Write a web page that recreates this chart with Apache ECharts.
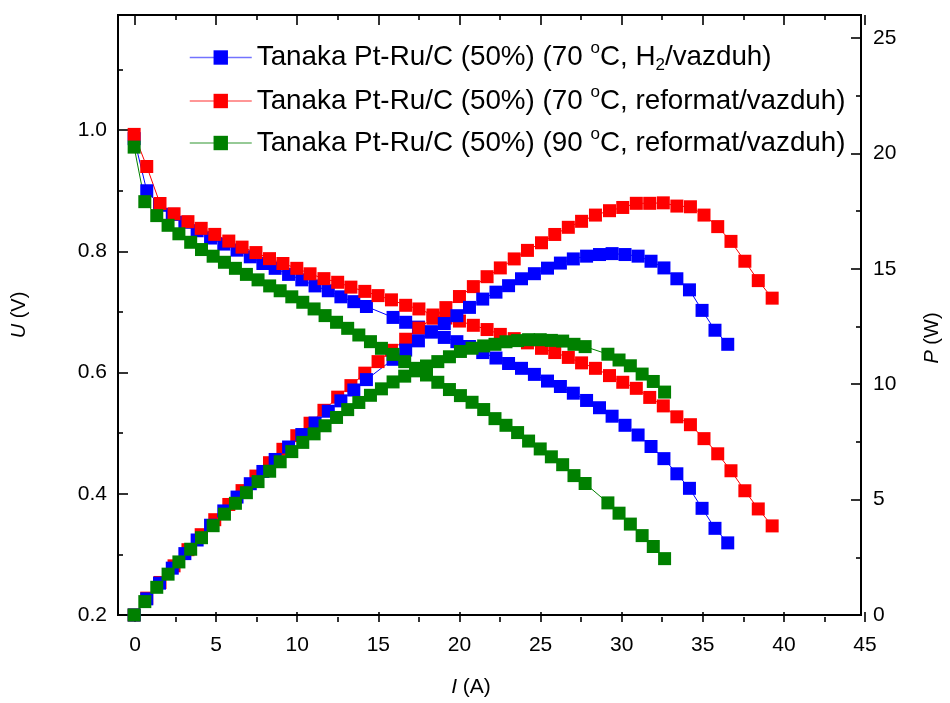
<!DOCTYPE html>
<html>
<head>
<meta charset="utf-8">
<script src="https://cdn.jsdelivr.net/npm/echarts@6/dist/echarts.min.js"></script>
<style>html,body{margin:0;padding:0;background:#fff;}#c{width:950px;height:703px;}</style>
</head>
<body>
<div id="c"></div>
<script>
// ---- data ----
const seriesNames = [
  'Tanaka Pt-Ru/C (50%) (70 °C, H2/vazduh)',
  'Tanaka Pt-Ru/C (50%) (70 °C, reformat/vazduh)',
  'Tanaka Pt-Ru/C (50%) (90 °C, reformat/vazduh)'
];
const legendRich = [
  'Tanaka Pt-Ru/C (50%) (70 {sup|o}C, H{sub|2}/vazduh)',
  'Tanaka Pt-Ru/C (50%) (70 {sup|o}C, reformat/vazduh)',
  'Tanaka Pt-Ru/C (50%) (90 {sup|o}C, reformat/vazduh)'
];
const seriesColors = ['#0000FF', '#FF0000', '#008000'];

// H2/air, 70 C
const I_blue = [0, 0.78, 1.57, 2.36, 3.14, 3.9, 4.73, 5.55, 6.37, 7.19, 7.97, 8.73, 9.56, 10.38, 11.2, 12.02, 12.8, 13.6, 14.38, 16.03, 16.81, 17.6, 18.4, 19.2, 19.98, 20.76, 21.58, 22.4, 23.18, 23.98, 24.78, 25.59, 26.39, 27.19, 28.01, 28.81, 29.59, 30.39, 31.2, 32.0, 32.8, 33.6, 34.38, 35.16, 35.96, 36.75];
const U_blue = [0.986, 0.900, 0.876, 0.861, 0.848, 0.834, 0.822, 0.812, 0.802, 0.791, 0.780, 0.772, 0.762, 0.753, 0.743, 0.735, 0.725, 0.717, 0.709, 0.691, 0.683, 0.675, 0.667, 0.658, 0.651, 0.643, 0.633, 0.624, 0.615, 0.607, 0.597, 0.586, 0.577, 0.566, 0.554, 0.542, 0.528, 0.513, 0.497, 0.478, 0.458, 0.433, 0.409, 0.376, 0.343, 0.319];
const P_blue = [0, 0.70, 1.38, 2.03, 2.66, 3.25, 3.89, 4.51, 5.11, 5.69, 6.22, 6.74, 7.28, 7.82, 8.32, 8.83, 9.28, 9.75, 10.20, 11.08, 11.48, 11.88, 12.27, 12.63, 12.97, 13.33, 13.69, 13.99, 14.27, 14.57, 14.79, 15.03, 15.25, 15.43, 15.55, 15.62, 15.66, 15.62, 15.55, 15.33, 15.04, 14.57, 14.09, 13.20, 12.34, 11.73];

// reformate/air, 70 C
const I_red = [0, 0.78, 1.6, 2.47, 3.33, 4.15, 4.99, 5.86, 6.68, 7.54, 8.38, 9.21, 10.07, 10.89, 11.75, 12.6, 13.42, 14.28, 15.1, 15.93, 16.81, 17.63, 18.5, 19.3, 20.14, 21.0, 21.85, 22.67, 23.53, 24.35, 25.22, 26.04, 26.88, 27.7, 28.56, 29.43, 30.25, 31.09, 31.92, 32.76, 33.6, 34.44, 35.28, 36.13, 36.95, 37.81, 38.64, 39.5];
const U_red = [0.993, 0.940, 0.879, 0.862, 0.849, 0.838, 0.828, 0.817, 0.807, 0.798, 0.788, 0.780, 0.772, 0.763, 0.755, 0.749, 0.741, 0.734, 0.727, 0.720, 0.711, 0.705, 0.695, 0.690, 0.685, 0.678, 0.671, 0.663, 0.656, 0.649, 0.640, 0.633, 0.625, 0.616, 0.607, 0.595, 0.584, 0.574, 0.559, 0.545, 0.527, 0.514, 0.491, 0.466, 0.438, 0.405, 0.375, 0.347];
const P_red = [0, 0.73, 1.41, 2.13, 2.83, 3.48, 4.13, 4.79, 5.39, 6.02, 6.60, 7.18, 7.77, 8.31, 8.87, 9.44, 9.94, 10.48, 10.98, 11.47, 11.95, 12.43, 12.86, 13.32, 13.80, 14.23, 14.66, 15.04, 15.43, 15.80, 16.13, 16.49, 16.80, 17.06, 17.33, 17.52, 17.66, 17.84, 17.84, 17.86, 17.72, 17.69, 17.33, 16.83, 16.19, 15.33, 14.49, 13.73];

// reformate/air, 90 C
const I_green = [0, 0.66, 1.4, 2.1, 2.77, 3.5, 4.17, 4.89, 5.59, 6.27, 6.95, 7.67, 8.39, 9.04, 9.76, 10.44, 11.14, 11.82, 12.53, 13.22, 13.91, 14.63, 15.31, 16.03, 16.75, 17.43, 18.1, 18.8, 19.52, 20.2, 20.92, 21.64, 22.34, 23.02, 23.74, 24.42, 25.14, 25.83, 26.53, 27.23, 27.92, 29.33, 30.02, 30.72, 31.45, 32.14, 32.84];
const U_green = [0.972, 0.882, 0.859, 0.843, 0.829, 0.815, 0.803, 0.792, 0.782, 0.772, 0.762, 0.753, 0.743, 0.735, 0.725, 0.716, 0.705, 0.694, 0.683, 0.673, 0.662, 0.651, 0.640, 0.630, 0.618, 0.607, 0.596, 0.584, 0.572, 0.562, 0.551, 0.539, 0.524, 0.513, 0.501, 0.487, 0.474, 0.461, 0.448, 0.430, 0.417, 0.385, 0.368, 0.350, 0.331, 0.313, 0.293];
const P_green = [0, 0.58, 1.20, 1.77, 2.30, 2.85, 3.35, 3.87, 4.37, 4.84, 5.30, 5.78, 6.23, 6.64, 7.08, 7.48, 7.85, 8.20, 8.56, 8.90, 9.21, 9.52, 9.80, 10.10, 10.35, 10.58, 10.79, 10.98, 11.19, 11.42, 11.56, 11.66, 11.73, 11.84, 11.89, 11.93, 11.93, 11.90, 11.87, 11.73, 11.63, 11.30, 11.05, 10.80, 10.44, 10.12, 9.66];

// axis ranges / ticks
const xMinFrame = -1, xMax = 45, xTickStep = 5;
const uMin = 0.2, uMax = 1.19, uTickStep = 0.2;
const pMin = 0, pMax = 26, pTickStep = 5;

// ---- chart ----
const FONT = "'Liberation Sans', Arial, sans-serif";
const pair = (xs, ys) => xs.map((x, i) => [x, ys[i]]);
const tickStyle = { color: '#000', width: 1.6 };

function mkSeries(name, color, xs, ys, yIdx) {
  return {
    name: name, type: 'line', xAxisIndex: 0, yAxisIndex: yIdx,
    data: pair(xs, ys),
    symbol: 'rect', symbolSize: 13,
    itemStyle: { color: color },
    lineStyle: { color: color, width: 1 },
    emphasis: { disabled: true },
    animation: false
  };
}

const chart = echarts.init(document.getElementById('c'), null, { renderer: 'canvas' });
chart.setOption({
  backgroundColor: '#fff',
  animation: false,
  textStyle: { fontFamily: FONT, color: '#000' },
  grid: [
    { left: 118, right: 85, top: 15, bottom: 81, show: true, borderColor: '#000', borderWidth: 2, backgroundColor: 'transparent' },
    { left: 135, right: 85, top: 15, bottom: 81, show: false }
  ],
  legend: {
    orient: 'vertical', left: 184, top: 35, itemWidth: 62, itemHeight: 18, itemGap: 9.5,
    data: seriesNames,
    formatter: n => legendRich[seriesNames.indexOf(n)],
    lineStyle: { width: 1.5, opacity: 0.55 },
    textStyle: {
      fontFamily: FONT, fontSize: 27.8, color: '#000', lineHeight: 30,
      rich: {
        sup: { fontSize: 17, height: 12, lineHeight: 12, verticalAlign: 'top', fontFamily: FONT },
        sub: { fontSize: 17, height: 14, lineHeight: 14, verticalAlign: 'bottom', fontFamily: FONT }
      }
    },
    selectedMode: false
  },
  xAxis: [
    { // frame axis for data, grid 0
      gridIndex: 0, type: 'value', min: xMinFrame, max: xMax,
      axisLine: { show: false, onZero: false }, axisTick: { show: false }, axisLabel: { show: false }, splitLine: { show: false },
      name: '{i|I} (A)', nameLocation: 'middle', nameGap: 62,
      nameTextStyle: { fontFamily: FONT, fontSize: 21, color: '#000', padding: [0, 37, 0, 0],
        rich: { i: { fontStyle: 'italic', fontSize: 21, fontFamily: FONT } } }
    },
    { // tick axis bottom, grid 1
      gridIndex: 1, type: 'value', min: 0, max: xMax, interval: xTickStep, position: 'bottom',
      axisLine: { show: false, onZero: false },
      axisTick: { show: true, inside: true, length: 10, lineStyle: tickStyle },
      minorTick: { show: true, splitNumber: 2, length: 5, lineStyle: tickStyle },
      axisLabel: { fontFamily: FONT, fontSize: 21, color: '#000', margin: 13 },
      splitLine: { show: false }
    },
    { // tick axis top, grid 1
      gridIndex: 1, type: 'value', min: 0, max: xMax, interval: xTickStep, position: 'top',
      axisLine: { show: false, onZero: false },
      axisTick: { show: true, inside: true, length: 10, lineStyle: tickStyle },
      minorTick: { show: true, splitNumber: 2, length: 5, lineStyle: tickStyle },
      axisLabel: { show: false }, splitLine: { show: false }
    }
  ],
  yAxis: [
    {
      gridIndex: 0, type: 'value', min: uMin, max: uMax, interval: uTickStep, position: 'left',
      axisLine: { show: false, onZero: false },
      axisTick: { show: true, inside: true, length: 10, lineStyle: tickStyle },
      minorTick: { show: true, splitNumber: 2, length: 5, lineStyle: tickStyle },
      axisLabel: { fontFamily: FONT, fontSize: 21, color: '#000', margin: 11, showMaxLabel: false,
        formatter: v => v.toFixed(1) },
      splitLine: { show: false },
      name: '{i|U} (V)', nameLocation: 'middle', nameGap: 89, nameRotate: 90,
      nameTextStyle: { fontFamily: FONT, fontSize: 20, color: '#000',
        rich: { i: { fontStyle: 'italic', fontSize: 20, fontFamily: FONT } } }
    },
    {
      gridIndex: 0, type: 'value', min: pMin, max: pMax, interval: pTickStep, position: 'right',
      axisLine: { show: false, onZero: false },
      axisTick: { show: true, inside: true, length: 10, lineStyle: tickStyle },
      minorTick: { show: true, splitNumber: 2, length: 5, lineStyle: tickStyle },
      axisLabel: { fontFamily: FONT, fontSize: 21, color: '#000', margin: 12, showMaxLabel: false },
      splitLine: { show: false },
      name: '{i|P} (W)', nameLocation: 'middle', nameGap: 61, nameRotate: 90,
      nameTextStyle: { fontFamily: FONT, fontSize: 20, color: '#000', padding: [0, 46, 0, 0],
        rich: { i: { fontStyle: 'italic', fontSize: 20, fontFamily: FONT } } }
    },
    { gridIndex: 1, type: 'value', min: 0, max: 1, show: false }
  ],
  series: [
    mkSeries(seriesNames[0], seriesColors[0], I_blue, U_blue, 0),
    mkSeries(seriesNames[1], seriesColors[1], I_red, U_red, 0),
    mkSeries(seriesNames[1], seriesColors[1], I_red, P_red, 1),
    mkSeries(seriesNames[0], seriesColors[0], I_blue, P_blue, 1),
    mkSeries(seriesNames[2], seriesColors[2], I_green, U_green, 0),
    mkSeries(seriesNames[2], seriesColors[2], I_green, P_green, 1)
  ]
});
</script>
</body>
</html>
